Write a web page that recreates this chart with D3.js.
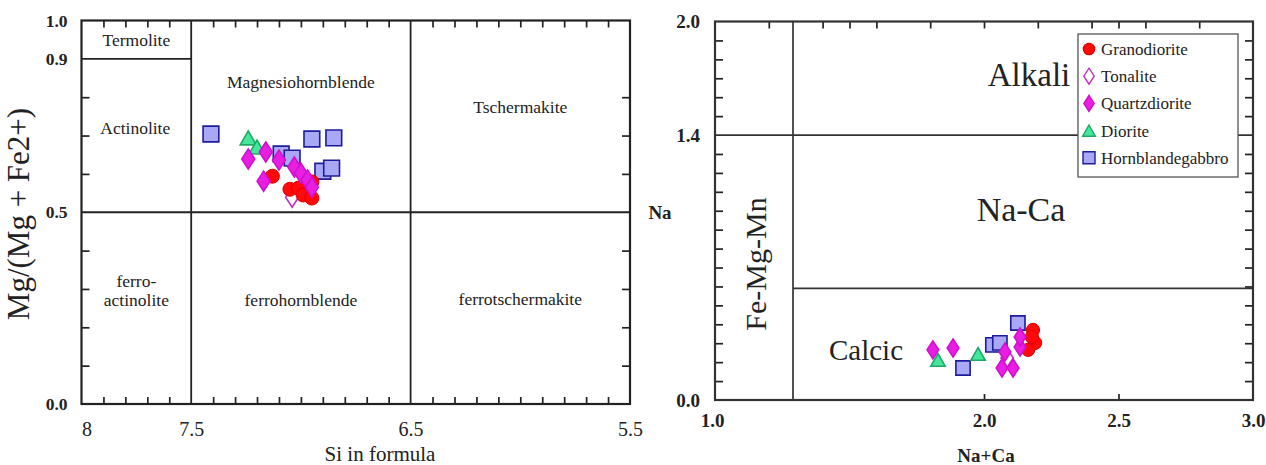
<!DOCTYPE html>
<html>
<head>
<meta charset="utf-8">
<script src="https://cdn.jsdelivr.net/npm/d3@7/dist/d3.min.js"></script>
<style>
  html, body { margin: 0; padding: 0; background: #fff; }
  svg { display: block; }
  text { font-family: "Liberation Serif", "Times New Roman", serif; fill: #222; }
</style>
</head>
<body>
<svg id="chart" width="1266" height="465"></svg>
<script>
// ---- Si vs Mg/(Mg+Fe2+) panel: [Si, Mg#] ----
const siGranodiorite = [[7.13, 0.594], [7.05, 0.560], [7.01, 0.563], [6.95, 0.579], [6.99, 0.545], [6.95, 0.537]];
const siTonalite = [[7.04, 0.539]];
const siQuartzdiorite = [[7.24, 0.639], [7.16, 0.657], [7.17, 0.581], [7.10, 0.636], [7.03, 0.618], [7.00, 0.602], [6.97, 0.584], [6.95, 0.565]];
const siDiorite = [[7.24, 0.694], [7.20, 0.670]];
const siGabbro = [[7.41, 0.704], [7.09, 0.652], [7.04, 0.641], [6.95, 0.691], [6.85, 0.694], [6.90, 0.607], [6.86, 0.615]];

// ---- Na+Ca vs Na panel: [Na+Ca, Na] ----
const naTonalite = [[2.086, 0.222]];
const naGranodiorite = [[2.182, 0.370], [2.190, 0.302], [2.164, 0.265], [2.178, 0.333]];
const naQuartzdiorite = [[1.810, 0.265], [1.885, 0.275], [2.067, 0.169], [2.108, 0.169], [2.078, 0.254], [2.134, 0.280], [2.134, 0.333]];
const naDiorite = [[1.829, 0.212], [1.978, 0.243]];
const naGabbro = [[1.922, 0.169], [2.033, 0.291], [2.059, 0.302], [2.126, 0.407]];

// axis ticks and boundaries
const siTickLabels = [8, 7.5, 6.5, 5.5];
const mgTickLabels = [1.0, 0.9, 0.5, 0.0];
const siBounds = [7.5, 6.5];
const mgBounds = [0.9, 0.5];
const sumTickLabels = [1.0, 2.0, 2.5, 3.0];
const naTickLabels = [2.0, 1.4, 0.0];
const sumTopTicks = [1.2, 1.4, 1.5, 1.6, 1.8, 2.0, 2.2, 2.4, 2.5, 2.6, 2.8];
const sumBottomTicks = [2.0, 2.5];
const sumBound = 1.29;
const naBounds = [1.4, 0.59];

const legendNames = ["Granodiorite", "Tonalite", "Quartzdiorite", "Diorite", "Hornblandegabbro"];

const svg = d3.select("#chart");

const styles = {
  Granodiorite: { shape: "circle", fill: "#ff0a0a", stroke: "#e00000" },
  Tonalite: { shape: "diamond", fill: "#ffffff", stroke: "#c030c8" },
  Quartzdiorite: { shape: "diamond", fill: "#e81ee0", stroke: "#d010d0" },
  Diorite: { shape: "triangle", fill: "#44e89a", stroke: "#20a868" },
  Hornblandegabbro: { shape: "square", fill: "#a8a8f4", stroke: "#1c1c9c" }
};

function shapePath(shape, s) {
  if (shape === "circle") {
    const r = 7 * s;
    return `M${-r},0a${r},${r} 0 1,0 ${2 * r},0a${r},${r} 0 1,0 ${-2 * r},0Z`;
  }
  if (shape === "diamond") {
    const w = 6.5 * s, h = 10 * s;
    return `M0,${-h}L${w},0L0,${h}L${-w},0Z`;
  }
  if (shape === "triangle") {
    const w = 8 * s, h = 7 * s;
    return `M0,${-h}L${w},${h}L${-w},${h}Z`;
  }
  const a = 7.5 * s;
  return `M${-a},${-a}H${a}V${a}H${-a}Z`;
}

function drawPoints(g, data, name, x, y, s) {
  const st = styles[name];
  g.append("g").selectAll("path").data(data).join("path")
    .attr("d", shapePath(st.shape, s))
    .attr("transform", d => `translate(${x(d[0])},${y(d[1])})`)
    .attr("fill", st.fill)
    .attr("stroke", st.stroke)
    .attr("stroke-width", st.shape === "circle" ? 1 : 1.6);
}

function range(a, b, step) {
  const out = [];
  for (let v = a; v <= b + 1e-9; v += step) out.push(Math.round(v * 100) / 100);
  return out;
}

function tickAxis(g, axisFn, scale, values, size, transform) {
  g.append("g").attr("transform", transform)
    .call(axisFn(scale).tickValues(values).tickSize(size).tickFormat("").tickSizeOuter(0))
    .call(a => a.select(".domain").remove())
    .call(a => a.selectAll("line").attr("stroke", "#222").attr("stroke-width", 1.7));
}

function styleLabels(a, size, bold) {
  a.select(".domain").remove();
  a.selectAll("text").attr("font-family", "Liberation Serif").attr("font-size", size)
    .attr("font-weight", bold ? "bold" : "normal").attr("fill", bold ? "#222" : "#333");
}

// ================= Left panel =================
{
  const x = d3.scaleLinear().domain([8, 5.5]).range([81.5, 630]);
  const y = d3.scaleLinear().domain([0, 1]).range([404, 20.5]);
  const g = svg.append("g");
  const [x0, x1] = x.range();
  const [y0, y1] = y.range();

  // inward minor ticks
  const xMinor = range(5.5, 8, 0.1).filter(v => !siTickLabels.includes(v));
  const yMinor = range(0, 1, 0.1).filter(v => !mgTickLabels.includes(v));
  tickAxis(g, d3.axisBottom, x, xMinor, -7, `translate(0,${y0})`);
  tickAxis(g, d3.axisTop, x, xMinor, -7, `translate(0,${y1})`);
  tickAxis(g, d3.axisLeft, y, yMinor, -8, `translate(${x0},0)`);
  tickAxis(g, d3.axisRight, y, yMinor, -8, `translate(${x1},0)`);

  // field boundaries
  const lines = g.append("g").attr("stroke", "#222").attr("stroke-width", 1.8);
  siBounds.forEach(v => lines.append("line").attr("x1", x(v)).attr("x2", x(v)).attr("y1", y0).attr("y2", y1));
  lines.append("line").attr("x1", x0).attr("x2", x(7.5)).attr("y1", y(mgBounds[0])).attr("y2", y(mgBounds[0]));
  lines.append("line").attr("x1", x0).attr("x2", x1).attr("y1", y(mgBounds[1])).attr("y2", y(mgBounds[1]));

  g.append("rect").attr("x", x0).attr("y", y1).attr("width", x1 - x0).attr("height", y0 - y1)
    .attr("fill", "none").attr("stroke", "#222").attr("stroke-width", 2.2);

  // tick labels
  g.append("g").attr("transform", `translate(0,${y0})`)
    .call(d3.axisBottom(x).tickValues(siTickLabels).tickSize(0).tickPadding(18).tickFormat(d => String(d)))
    .call(a => styleLabels(a, 20, false))
    .call(a => a.selectAll("text").attr("dx", d => d === 8 ? 5 : 0));
  g.append("g").attr("transform", `translate(${x0 - 14},0)`)
    .call(d3.axisLeft(y).tickValues(mgTickLabels).tickSize(0).tickPadding(0).tickFormat(d3.format(".1f")))
    .call(a => styleLabels(a, 17.5, true));

  // axis titles
  g.append("text").attr("x", 380).attr("y", 461).attr("text-anchor", "middle")
    .attr("font-size", 21).attr("fill", "#333").text("Si in formula");
  g.append("text").attr("transform", "translate(29,214) rotate(-90)").attr("text-anchor", "middle")
    .attr("font-size", 31).attr("fill", "#333").text("Mg/(Mg + Fe2+)");

  // field names
  const fields = [
    ["Termolite", 7.75, 0.95], ["Actinolite", 7.755, 0.72], ["Magnesiohornblende", 7.0, 0.84],
    ["Tschermakite", 6.0, 0.775], ["ferrohornblende", 7.0, 0.27], ["ferrotschermakite", 6.0, 0.273]
  ];
  g.append("g").selectAll("text").data(fields).join("text")
    .attr("x", d => x(d[1])).attr("y", d => y(d[2]) + 6).attr("text-anchor", "middle")
    .attr("font-size", 17.5).attr("fill", "#333").text(d => d[0]);
  g.append("text").attr("x", x(7.75)).attr("y", y(0.322) + 6).attr("text-anchor", "middle")
    .attr("font-size", 17.5).attr("fill", "#333").text("ferro-");
  g.append("text").attr("x", x(7.75)).attr("y", y(0.27) + 6).attr("text-anchor", "middle")
    .attr("font-size", 17.5).attr("fill", "#333").text("actinolite");

  drawPoints(g, siGabbro, "Hornblandegabbro", x, y, 1.05);
  drawPoints(g, siDiorite, "Diorite", x, y, 1);
  drawPoints(g, siTonalite, "Tonalite", x, y, 1);
  drawPoints(g, siGranodiorite, "Granodiorite", x, y, 1);
  drawPoints(g, siQuartzdiorite, "Quartzdiorite", x, y, 1);
}

// ================= Right panel =================
{
  const x = d3.scaleLinear().domain([1, 3]).range([715, 1253]);
  const y = d3.scaleLinear().domain([0, 2]).range([400, 21.5]);
  const g = svg.append("g");
  const [x0, x1] = x.range();
  const [y0, y1] = y.range();

  const yMinor = range(0, 2, 0.1).filter(v => !naTickLabels.includes(v));
  tickAxis(g, d3.axisTop, x, sumTopTicks, -7, `translate(0,${y1})`);
  tickAxis(g, d3.axisBottom, x, sumBottomTicks, -6, `translate(0,${y0})`);
  tickAxis(g, d3.axisLeft, y, yMinor, -8, `translate(${x0},0)`);
  tickAxis(g, d3.axisRight, y, yMinor, -8, `translate(${x1},0)`);

  const lines = g.append("g").attr("stroke", "#333").attr("stroke-width", 1.7);
  lines.append("line").attr("x1", x(sumBound)).attr("x2", x(sumBound)).attr("y1", y0).attr("y2", y1);
  lines.append("line").attr("x1", x0).attr("x2", x1).attr("y1", y(naBounds[0])).attr("y2", y(naBounds[0]));
  lines.append("line").attr("x1", x(sumBound)).attr("x2", x1).attr("y1", y(naBounds[1])).attr("y2", y(naBounds[1]));

  g.append("rect").attr("x", x0).attr("y", y1).attr("width", x1 - x0).attr("height", y0 - y1)
    .attr("fill", "none").attr("stroke", "#333").attr("stroke-width", 2.2);

  g.append("g").attr("transform", `translate(0,${y0})`)
    .call(d3.axisBottom(x).tickValues(sumTickLabels).tickSize(0).tickPadding(14).tickFormat(d3.format(".1f")))
    .call(a => styleLabels(a, 19, true))
    .call(a => a.selectAll("text").attr("dx", d => d === 1 ? -3 : 0));
  g.append("g").attr("transform", `translate(${x0 - 15},0)`)
    .call(d3.axisLeft(y).tickValues(naTickLabels).tickSize(0).tickPadding(0).tickFormat(d3.format(".1f")))
    .call(a => styleLabels(a, 19, true));

  g.append("text").attr("x", 986).attr("y", 462).attr("text-anchor", "middle")
    .attr("font-size", 19).attr("font-weight", "bold").attr("fill", "#222").text("Na+Ca");
  g.append("text").attr("x", 660).attr("y", 219).attr("text-anchor", "middle")
    .attr("font-size", 19).attr("font-weight", "bold").attr("fill", "#222").text("Na");

  // field names
  g.append("text").attr("x", 1029).attr("y", 86).attr("text-anchor", "middle")
    .attr("font-size", 33).attr("fill", "#333").text("Alkali");
  g.append("text").attr("x", 1021).attr("y", 221).attr("text-anchor", "middle")
    .attr("font-size", 34).attr("fill", "#333").text("Na-Ca");
  g.append("text").attr("x", 866).attr("y", 360).attr("text-anchor", "middle")
    .attr("font-size", 29).attr("fill", "#333").text("Calcic");
  g.append("text").attr("transform", "translate(766,264) rotate(-90)").attr("text-anchor", "middle")
    .attr("font-size", 30).attr("fill", "#333").text("Fe-Mg-Mn");

  drawPoints(g, naTonalite, "Tonalite", x, y, 0.95);
  drawPoints(g, naGranodiorite, "Granodiorite", x, y, 0.95);
  drawPoints(g, naGabbro, "Hornblandegabbro", x, y, 0.95);
  drawPoints(g, naDiorite, "Diorite", x, y, 0.9);
  drawPoints(g, naQuartzdiorite, "Quartzdiorite", x, y, 0.9);

  // legend
  const lg = g.append("g").attr("transform", "translate(1078,34)");
  lg.append("rect").attr("width", 160).attr("height", 143).attr("fill", "#fff")
    .attr("stroke", "#555").attr("stroke-width", 1.3);
  const items = lg.selectAll("g.item").data(legendNames).join("g")
    .attr("transform", (d, i) => `translate(11,${15 + i * 27.2})`);
  items.append("path")
    .attr("d", d => shapePath(styles[d].shape, 0.8))
    .attr("fill", d => styles[d].fill).attr("stroke", d => styles[d].stroke)
    .attr("stroke-width", 1.4);
  items.append("text").attr("x", 12).attr("y", 6).attr("font-size", 17).attr("fill", "#444")
    .text(d => d);
}
</script>
</body>
</html>
